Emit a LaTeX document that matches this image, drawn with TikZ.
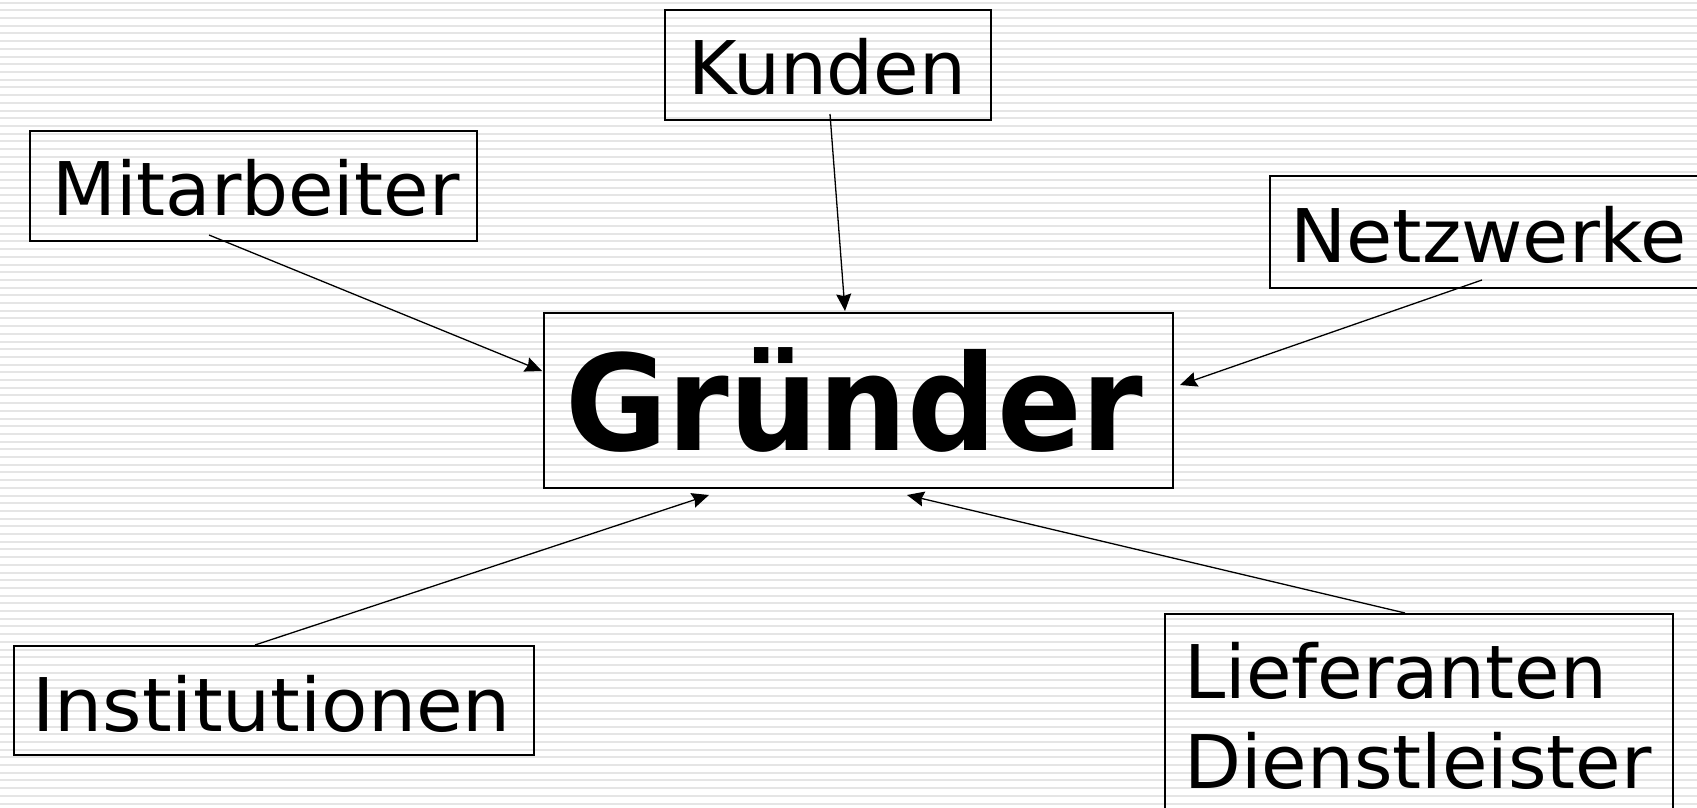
\documentclass[tikz,border=0pt]{standalone}
\usepackage{fontspec}
\setmainfont{DejaVu Sans}
\usetikzlibrary{arrows.meta}
\tikzset{
  box/.style={draw=black, line width=1.6pt, inner sep=0pt, anchor=north west},
  lbl/.style={inner sep=0pt, anchor=base west, font=\fontsize{74}{90}\selectfont},
  conn/.style={draw=black, line width=1.3pt, -{Stealth[length=17pt,width=15pt,inset=2pt]}},
  stripe/.style={draw=gray!20, line width=2pt}
}
\begin{document}
\begin{tikzpicture}[x=1pt,y=-1pt]
\useasboundingbox (0,0) rectangle (1697,808);
\clip (0,0) rectangle (1697,808);
\fill[white] (0,0) rectangle (1697,808);
\foreach \k in {0,...,105} {
  \draw[stripe] (0,2.7+7.7*\k) -- (1697,2.7+7.7*\k);
}
% boxes
\node[box, minimum width=326pt, minimum height=110pt] (kunden) at (664,9) {};
\node[box, minimum width=447pt, minimum height=110pt] (mitarb) at (29,130) {};
\node[box, minimum width=460pt, minimum height=112pt] (netzw) at (1269,175) {};
\node[box, minimum width=629pt, minimum height=175pt] (gruender) at (543,312) {};
\node[box, minimum width=520pt, minimum height=109pt] (instit) at (13,645) {};
\node[box, minimum width=508pt, minimum height=220pt] (liefer) at (1164,613) {};
% texts
\node[lbl] (tkunden) at (688,94) {Kunden};
\node[lbl] (tmitarb) at (52,215) {Mitarbeiter};
\node[lbl] (tnetzw) at (1290,262) {\scalebox{1.015}[1]{Netzwerke}};
\node[lbl] (tinstit) at (32,731) {\scalebox{1.025}[1]{Institutionen}};
\node[lbl] (tliefer1) at (1184,698) {Lieferanten};
\node[lbl] (tliefer2) at (1184,788) {Dienstleister};
\node[inner sep=0pt, anchor=base west] (tgruender) at (565,450) {\scalebox{0.94}[1]{\fontsize{133}{133}\selectfont\bfseries Gründer}};
% connector end points
\coordinate (kS) at (830,114);
\coordinate (kE) at (845,311);
\coordinate (mS) at (209,235);
\coordinate (mE) at (542,371);
\coordinate (nS) at (1482,280);
\coordinate (nE) at (1180,385);
\coordinate (iS) at (255,645);
\coordinate (iE) at (709,495);
\coordinate (lS) at (1405,613);
\coordinate (lE) at (907,495);
\draw[conn] (kS) -- (kE);
\draw[conn] (mS) -- (mE);
\draw[conn] (nS) -- (nE);
\draw[conn] (iS) -- (iE);
\draw[conn] (lS) -- (lE);
\end{tikzpicture}
\end{document}
